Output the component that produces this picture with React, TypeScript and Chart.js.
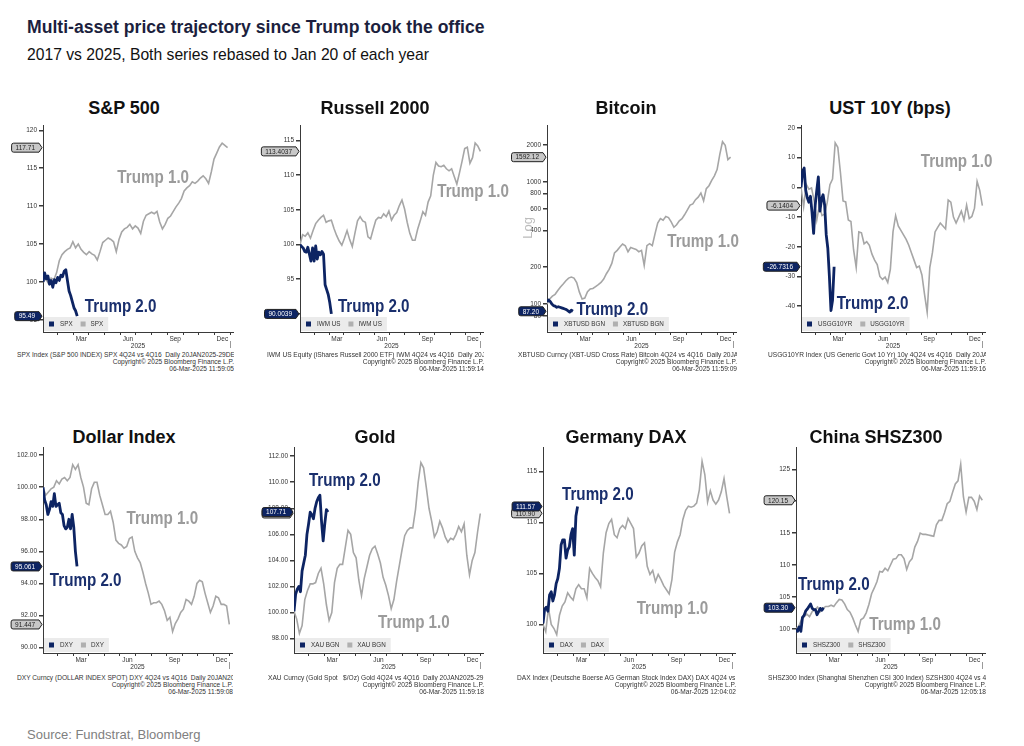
import React, { useEffect, useRef } from "react";
import { Chart, registerables } from "chart.js";

Chart.register(...registerables);

// ---------------- data ----------------
const TITLE = "Multi-asset price trajectory since Trump took the office";
const SUBTITLE = "2017 vs 2025, Both series rebased to Jan 20 of each year";
const SOURCE = "Source: Fundstrat, Bloomberg";
const SERIES_NAMES = ["Trump 1.0", "Trump 2.0"];
const COPYRIGHT = "Copyright\u00a9 2025 Bloomberg Finance L.P.";

// x positions are "session units" since Jan 20
const X_MAX = 350;
const STEP_1 = 5; // spacing of Trump 1.0 samples
const STEP_2 = 3; // spacing of Trump 2.0 samples
const MONTH_TICKS = [27, 56, 84, 113, 142, 171, 200, 229, 258, 287, 316, 345];
const MONTH_LABELS = ["", "Mar", "", "", "Jun", "", "", "Sep", "", "", "Dec", ""];
const HALF_MONTH = 14.45;
const YEAR_LABEL = "2025";

const SPX_2017 = [100.0, 100.4, 99.8, 100.5, 100.3, 101.2, 102.8, 103.6, 104.0, 104.3,
  104.5, 105.3, 104.5, 105.0, 104.3, 103.9, 103.6, 104.0, 103.7, 103.5,
  102.9, 104.0, 105.2, 105.5, 105.8, 105.6, 105.3, 104.0, 105.6, 106.6,
  107.0, 107.2, 107.6, 107.0, 107.4, 107.1, 106.4, 108.0, 108.8, 109.0,
  109.2, 109.0, 109.3, 107.9, 107.0, 107.6, 108.4, 108.7, 109.3, 109.9,
  110.4, 111.0, 112.0, 112.4, 112.7, 113.2, 113.0, 113.3, 113.7, 114.0,
  113.6, 113.0, 114.5, 116.2, 117.0, 117.8, 118.3, 118.0, 117.71];
const SPX_2025 = [100.0, 101.2, 100.4, 100.8, 99.7, 100.2, 99.3, 100.3, 99.9, 100.6, 100.2,
  100.9, 100.7, 101.4, 101.6, 100.2, 98.8, 98.2, 97.4, 96.6, 96.2, 95.49];

const IWM_2017 = [100.0, 101.4, 101.2, 101.7, 100.9, 102.0, 103.0, 103.5, 103.9, 104.2,
  103.2, 103.4, 103.5, 102.3, 101.3, 100.5, 99.9, 100.9, 102.0, 100.7,
  99.7, 101.6, 103.4, 104.0, 103.4, 103.2, 101.1, 100.8, 102.2, 103.5,
  103.9, 103.8, 104.4, 104.0, 104.8, 103.5, 104.2, 104.6, 105.6, 106.4,
  105.1, 103.2, 101.6, 100.6, 100.6, 102.2, 103.4, 104.7, 104.2, 106.1,
  107.0, 110.0, 111.8, 111.3, 111.2, 111.4, 110.9, 110.6, 110.9, 109.8,
  108.7, 110.3, 112.0, 113.8, 114.0, 111.7, 112.5, 114.6, 114.2, 113.4037];
const IWM_2025 = [100.0, 99.7, 99.5, 99.0, 98.9, 99.6, 98.6, 97.6, 99.5, 97.6, 99.8,
  97.9, 98.9, 98.5, 99.0, 98.6, 94.2, 93.5, 92.8, 91.6, 90.0039];

const XBT_2017 = [100, 110, 116, 120, 129, 138, 146, 155, 163, 166,
  163, 150, 125, 110, 112, 126, 133, 134, 139, 144,
  150, 160, 177, 192, 215, 262, 275, 293, 310, 300,
  268, 290, 285, 280, 268, 275, 207, 300, 312, 300,
  375, 460, 500, 485, 520, 510, 470, 425, 445, 480,
  500, 540, 590, 645, 660, 715, 750, 810, 700, 880,
  930, 1030, 1120, 1260, 1680, 2130, 1990, 1520, 1592.12];
const XBT_2025 = [104, 108, 105, 100, 97, 96, 94, 95, 94, 93, 92, 91, 90, 88, 86, 89, 87.2];

const USGG_2017 = [0, -6.5, 1.0, -0.6, -0.2, -4.5, -11.0, -6.0, -9.5, -9.0,
  -5.0, 0.9, 2.8, 15.0, 13.5, 5.0, -4.6, -4.9, -11.0, -11.5,
  -21.0, -27.0, -15.0, -15.3, -19.0, -18.3, -19.5, -22.5, -24.5, -26.0,
  -30.0, -31.0, -30.2, -32.0, -27.5, -15.0, -9.5, -13.0, -14.5, -16.0,
  -17.5, -19.5, -22.0, -24.5, -27.0, -26.5, -29.5, -36.0, -42.0, -27.0,
  -22.0, -15.0, -13.5, -12.0, -13.0, -14.0, -4.3, -5.0, -10.0, -12.0,
  -10.0, -8.0, -11.0, -6.0, -10.5, -9.8, -7.0, 2.0, -1.0, -6.1404];
const USGG_2025 = [0, 5.5, 6.5, -1.0, -3.5, -5.0, -3.0, -8.5, -15.5, -6.0, -1.0,
  3.5, -8.0, -4.0, -2.5, -6.0, -16.0, -20.5, -30.0, -41.5, -38.0, -26.7316];

const DXY_2017 = [100.0, 99.5, 99.7, 99.9, 100.0, 100.4, 100.2, 100.5, 100.6, 100.4,
  100.6, 101.4, 101.1, 101.4, 100.6, 100.0, 99.0, 98.9, 99.9, 100.3,
  100.3, 99.5, 98.9, 98.3, 98.3, 98.5, 97.8, 96.7, 96.5, 96.4,
  96.2, 96.3, 96.8, 96.9, 96.0, 95.6, 95.3, 94.7, 94.0, 93.4,
  92.7, 92.8, 92.8, 92.9, 92.7, 92.3, 91.7, 91.9, 91.0, 91.5,
  91.8, 92.2, 92.4, 93.0, 92.9, 92.7, 93.2, 94.0, 94.2, 94.1,
  93.4, 92.8, 92.2, 92.6, 93.2, 93.1, 92.7, 92.7, 92.6, 91.447];
const DXY_2025 = [100.0, 99.2, 98.9, 98.3, 98.6, 99.1, 98.8, 99.6, 98.8, 98.9, 99.0,
  98.4, 98.3, 97.6, 97.4, 97.5, 98.0, 97.4, 98.3, 97.5, 96.0, 95.061];

const XAU_2017 = [100.1, 99.5, 98.4, 99.0, 101.0, 101.7, 102.2, 102.2, 102.3, 103.0,
  103.4, 102.2, 100.6, 99.4, 100.0, 102.3, 103.4, 103.7, 103.7, 105.0,
  106.3, 106.0, 104.6, 104.2, 102.5, 101.3, 102.6, 103.5, 104.4, 104.9,
  105.1, 104.5, 103.8, 102.7, 102.1, 101.3, 100.3, 101.0, 102.4, 103.6,
  104.8, 105.9, 106.3, 106.5, 106.5, 107.9, 110.0, 111.5, 111.1, 109.6,
  108.0, 107.0, 105.8, 106.2, 107.0, 106.5, 105.8, 105.4, 105.7, 105.6,
  106.0, 106.6, 106.2, 106.8, 104.4, 102.9, 104.0, 104.6, 106.2, 107.6];
const XAU_2025 = [100.1, 101.4, 101.8, 102.0, 101.6, 103.2, 103.8, 104.4, 106.0, 106.8, 107.7,
  107.5, 107.2, 108.0, 108.5, 108.8, 109.0, 107.0, 105.5, 106.8, 107.9, 107.71];

const DAX_2017 = [100.0, 99.3, 101.6, 100.0, 99.6, 99.0, 100.9, 101.8, 102.2, 103.1,
  102.7, 102.4, 103.5, 103.9, 103.5, 103.5, 102.6, 105.5, 105.0, 104.6,
  104.3, 103.7, 107.0, 109.0, 109.9, 110.3, 108.8, 108.5, 109.4, 109.7,
  109.4, 110.4, 109.9, 109.4, 106.6, 107.0, 107.7, 108.0, 105.7, 104.9,
  105.3, 104.2, 104.9, 104.4, 103.8, 103.4, 103.0, 104.4, 107.1, 108.1,
  108.8, 110.3, 111.2, 111.6, 111.5, 111.6, 111.9, 113.2, 116.0, 114.7,
  112.0, 113.1, 112.2, 111.8, 112.2, 113.0, 114.3, 112.5, 110.9];
const DAX_2025 = [100.1, 101.5, 101.7, 101.3, 102.9, 103.2, 102.3, 102.9, 104.0, 104.5, 105.5,
  107.8, 108.3, 108.3, 106.5, 107.3, 107.6, 108.8, 109.4, 106.8, 110.6, 111.57];

const SHSZ_2017 = [100.0, 100.4, 101.4, 101.9, 102.3, 101.9, 102.7, 103.0, 103.4, 102.7,
  103.2, 103.5, 103.5, 103.7, 103.5, 104.1, 104.6, 104.5, 103.9, 103.0,
  102.6, 101.7, 100.6, 99.6, 101.4, 101.7, 102.5, 103.8, 105.5, 106.4,
  107.4, 109.0, 108.9, 109.5, 109.1, 110.0, 110.9, 111.0, 111.6, 111.6,
  111.0, 109.3, 110.5, 111.0, 112.8, 113.7, 115.0, 114.8, 114.8, 114.7,
  114.6, 114.5, 116.3, 117.0, 117.0, 118.2, 119.6, 120.0, 121.4, 122.7,
  123.2, 125.8, 120.7, 118.3, 120.6, 120.6, 120.0, 118.7, 120.8, 120.15];
const SHSZ_2025 = [100.0, 99.6, 100.3, 99.6, 101.8, 102.1, 102.8, 103.1, 103.5, 103.9,
  103.2, 103.0, 103.0, 102.2, 102.7, 103.2, 102.9, 103.3];

const SPX_TICKS = [95, 100, 105, 110, 115, 120];
const IWM_TICKS = [90, 95, 100, 105, 110, 115];
const XBT_TICKS = [80, 100, 200, 400, 600, 800, 1000, 2000];
const USGG_TICKS = [-40, -30, -20, -10, 0, 10, 20];
const DXY_TICKS = [90, 92, 94, 96, 98, 100, 102];
const XAU_TICKS = [98, 100, 102, 104, 106, 108, 110, 112];
const DAX_TICKS = [100, 105, 110, 115];
const SHSZ_TICKS = [100, 105, 110, 115, 120, 125];

// ---------------- styling ----------------
const FONT = "'Liberation Sans', Arial, sans-serif";
const NAVY = "#0d2463";
const GRAY = "#a6a6a6";
const NAVY_TEXT = "#1a2f6d";
const GRAY_TEXT = "#9b9b9b";
const AXIS = "#3a3a3a";
const TICK_TEXT = "#333333";
const ROW_TOP = [125, 447];
const ROW_H = [207, 206];
const YW = 44;
const PT = 10;
const XH = 18;
const RPAD = 30;

type Panel = {
  title: string; titleX: number; row: number; axis: number; right: number;
  legend: string; s1: number[]; s2: number[]; dec1: number; dec2: number;
  yMin: number; yMax: number; yTicks: number[]; yDec: number; log?: boolean;
  ann1: number[]; ann2: number[]; foot: string; stamp: string; footLeft: number;
};

const PANELS: Panel[] = [
  { title: "S&P 500", titleX: 124, row: 0, axis: 43, right: 233, legend: "SPX", s1: SPX_2017, s2: SPX_2025, dec1: 2, dec2: 2,
    yMin: 93.4, yMax: 120.7, yTicks: SPX_TICKS, yDec: 0, ann1: [203, 113.7], ann2: [143, 96.7],
    foot: "SPX Index (S&P 500 INDEX) SPX 4Q24 vs 4Q16  Daily 20JAN2025-29DEC2025", stamp: "06-Mar-2025 11:59:05", footLeft: 17 },
  { title: "Russell 2000", titleX: 375, row: 0, axis: 300, right: 483, legend: "IWM US", s1: IWM_2017, s2: IWM_2025, dec1: 4, dec2: 4,
    yMin: 87.4, yMax: 117.2, yTicks: IWM_TICKS, yDec: 0, ann1: [331, 107.6], ann2: [141, 91.0],
    foot: "IWM US Equity (iShares Russell 2000 ETF) IWM 4Q24 vs 4Q16  Daily 20JAN2025-29DEC2025", stamp: "06-Mar-2025 11:59:14", footLeft: 267 },
  { title: "Bitcoin", titleX: 626, row: 0, axis: 547, right: 736, legend: "XBTUSD BGN", s1: XBT_2017, s2: XBT_2025, dec1: 2, dec2: 2,
    yMin: 59, yMax: 2920, yTicks: XBT_TICKS, yDec: 0, log: true, ann1: [289, 322], ann2: [121, 89],
    foot: "XBTUSD Curncy (XBT-USD Cross Rate) Bitcoin 4Q24 vs 4Q16  Daily 20JAN2025-29DEC2025", stamp: "06-Mar-2025 11:59:09", footLeft: 518 },
  { title: "UST 10Y (bps)", titleX: 890, row: 0, axis: 801, right: 985, legend: "USGG10YR", s1: USGG_2017, s2: USGG_2025, dec1: 4, dec2: 4,
    yMin: -48.7, yMax: 21, yTicks: USGG_TICKS, yDec: 0, ann1: [296, 8.5], ann2: [136, -39.2],
    foot: "USGG10YR Index (US Generic Govt 10 Yr) 10y 4Q24 vs 4Q16  Daily 20JAN2025-29DEC2025", stamp: "06-Mar-2025 11:59:16", footLeft: 768 },
  { title: "Dollar Index", titleX: 124, row: 1, axis: 43, right: 232, legend: "DXY", s1: DXY_2017, s2: DXY_2025, dec1: 3, dec2: 3,
    yMin: 89.67, yMax: 102.5, yTicks: DXY_TICKS, yDec: 2, ann1: [221, 98.03], ann2: [79, 94.15],
    foot: "DXY Curncy (DOLLAR INDEX SPOT) DXY 4Q24 vs 4Q16  Daily 20JAN2025-29DEC2025", stamp: "06-Mar-2025 11:59:08", footLeft: 17 },
  { title: "Gold", titleX: 375, row: 1, axis: 294, right: 483, legend: "XAU BGN", s1: XAU_2017, s2: XAU_2025, dec1: 2, dec2: 2,
    yMin: 96.9, yMax: 112.7, yTicks: XAU_TICKS, yDec: 2, ann1: [222, 99.2], ann2: [94, 110.1],
    foot: "XAU Curncy (Gold Spot   $/Oz) Gold 4Q24 vs 4Q16  Daily 20JAN2025-29DEC2025", stamp: "06-Mar-2025 11:59:18", footLeft: 268 },
  { title: "Germany DAX", titleX: 626, row: 1, axis: 543, right: 735, legend: "DAX", s1: DAX_2017, s2: DAX_2025, dec1: 2, dec2: 2,
    yMin: 97.2, yMax: 117.4, yTicks: DAX_TICKS, yDec: 0, ann1: [236, 101.5], ann2: [100, 112.7],
    foot: "DAX Index (Deutsche Boerse AG German Stock Index DAX) DAX 4Q24 vs 4Q16  Daily 20JAN2025-29DEC2025", stamp: "06-Mar-2025 12:04:02", footLeft: 517 },
  { title: "China SHSZ300", titleX: 876, row: 1, axis: 796, right: 985, legend: "SHSZ300", s1: SHSZ_2017, s2: SHSZ_2025, dec1: 2, dec2: 2,
    yMin: 96.2, yMax: 128.5, yTicks: SHSZ_TICKS, yDec: 0, ann1: [202, 100.6], ann2: [70, 106.9],
    foot: "SHSZ300 Index (Shanghai Shenzhen CSI 300 Index) SZSH300 4Q24 vs 4Q16  Daily 20JAN2025-29DEC2025", stamp: "06-Mar-2025 12:05:18", footLeft: 768 },
];

function narrowText(ctx: CanvasRenderingContext2D, text: string, cx: number, cy: number, color: string) {
  ctx.save();
  ctx.font = `bold 18.5px ${FONT}`;
  ctx.fillStyle = color;
  ctx.textAlign = "center";
  ctx.textBaseline = "middle";
  ctx.translate(cx, cy);
  ctx.scale(0.82, 1);
  ctx.fillText(text, 0, 0);
  ctx.restore();
}

function valueTag(ctx: CanvasRenderingContext2D, text: string, tipX: number, y: number, fill: string, txt: string) {
  ctx.save();
  ctx.font = `6.5px ${FONT}`;
  const w = ctx.measureText(text).width + 8;
  const h = 9;
  const x1 = tipX - 3;
  const x0 = x1 - w;
  const y0 = y - h / 2;
  const r = 2;
  ctx.beginPath();
  ctx.moveTo(x0 + r, y0);
  ctx.lineTo(x1, y0);
  ctx.lineTo(tipX, y);
  ctx.lineTo(x1, y0 + h);
  ctx.lineTo(x0 + r, y0 + h);
  ctx.quadraticCurveTo(x0, y0 + h, x0, y0 + h - r);
  ctx.lineTo(x0, y0 + r);
  ctx.quadraticCurveTo(x0, y0, x0 + r, y0);
  ctx.closePath();
  ctx.fillStyle = fill;
  ctx.fill();
  ctx.strokeStyle = "#222";
  ctx.lineWidth = 1;
  ctx.stroke();
  ctx.fillStyle = txt;
  ctx.textAlign = "center";
  ctx.textBaseline = "middle";
  ctx.fillText(text, x0 + w / 2, y + 0.5);
  ctx.restore();
}

function overlayPlugin(p: Panel) {
  return {
    id: "overlay",
    afterDraw(chart: any) {
      const { ctx, chartArea: a, scales } = chart;
      const xs = scales.x;
      const ys = scales.y;
      ctx.save();
      // year-end marker
      const xm = Math.round(xs.getPixelForValue(MONTH_TICKS[MONTH_TICKS.length - 1])) + 0.5;
      ctx.strokeStyle = "#9a9a9a";
      ctx.lineWidth = 1;
      ctx.beginPath();
      ctx.moveTo(xm, a.bottom + 9);
      ctx.lineTo(xm, a.bottom + 16);
      ctx.stroke();

      // log label
      if (p.log) {
        ctx.save();
        ctx.translate(a.left - 19, ys.getPixelForValue(420));
        ctx.rotate(-Math.PI / 2);
        ctx.font = `13px ${FONT}`;
        ctx.fillStyle = "#bdbdbd";
        ctx.textAlign = "center";
        ctx.textBaseline = "middle";
        ctx.fillText("Log", 0, 0);
        ctx.restore();
      }

      // annotations
      narrowText(ctx, SERIES_NAMES[0], xs.getPixelForValue(p.ann1[0]), ys.getPixelForValue(p.ann1[1]), GRAY_TEXT);
      narrowText(ctx, SERIES_NAMES[1], xs.getPixelForValue(p.ann2[0]), ys.getPixelForValue(p.ann2[1]), NAVY_TEXT);

      // legend box
      ctx.font = `6.3px ${FONT}`;
      const tw = ctx.measureText(p.legend).width;
      const lx = a.left + 1;
      const ly = a.bottom - 15;
      const sq2 = lx + 16 + tw + 8;
      const tx2 = sq2 + 10;
      const lw = tx2 + tw + 5 - lx;
      ctx.fillStyle = "#ebebeb";
      ctx.fillRect(lx, ly, lw, 14);
      ctx.fillStyle = NAVY;
      ctx.fillRect(lx + 5, ly + 4.5, 5, 5);
      ctx.fillStyle = "#b0b0b0";
      ctx.fillRect(sq2, ly + 4.5, 5, 5);
      ctx.fillStyle = TICK_TEXT;
      ctx.textBaseline = "middle";
      ctx.textAlign = "left";
      ctx.fillText(p.legend, lx + 16, ly + 7.5);
      ctx.fillText(p.legend, tx2, ly + 7.5);

      // last value tags
      const last1 = p.s1[p.s1.length - 1];
      const last2 = p.s2[p.s2.length - 1];
      valueTag(ctx, last1.toFixed(p.dec1), a.left - 1, ys.getPixelForValue(last1), "#c8c8c8", "#222");
      valueTag(ctx, last2.toFixed(p.dec2), a.left - 1, ys.getPixelForValue(last2), NAVY, "#ffffff");
      ctx.restore();
    },
  };
}

function buildConfig(p: Panel): any {
  const plotW = p.right - p.axis;
  const pts1 = p.s1.map((v, i) => ({ x: i * STEP_1, y: v }));
  const pts2 = p.s2.map((v, i) => ({ x: i * STEP_2, y: v }));
  return {
    type: "line",
    data: {
      datasets: [
        { label: SERIES_NAMES[1], data: pts2, borderColor: NAVY, borderWidth: 2.8, pointRadius: 0, tension: 0, borderJoinStyle: "round" },
        { label: SERIES_NAMES[0], data: pts1, borderColor: GRAY, borderWidth: 1.6, pointRadius: 0, tension: 0 },
      ],
    },
    options: {
      animation: false,
      responsive: false,
      maintainAspectRatio: false,
      layout: { padding: { top: PT, right: RPAD, left: 0, bottom: 0 } },
      plugins: { legend: { display: false }, tooltip: { enabled: false }, title: { display: false } },
      scales: {
        x: {
          type: "linear",
          min: 0,
          max: X_MAX,
          afterBuildTicks: (s: any) => { s.ticks = MONTH_TICKS.map((v) => ({ value: v })); },
          afterFit: (s: any) => { s.height = XH; },
          ticks: {
            callback: (_v: any, i: number) => MONTH_LABELS[i],
            autoSkip: false, maxRotation: 0, padding: 0,
            labelOffset: (HALF_MONTH / X_MAX) * plotW,
            font: { family: FONT, size: 6.5 }, color: TICK_TEXT,
          },
          grid: { display: true, drawOnChartArea: false, drawTicks: true, tickLength: 3, color: AXIS, lineWidth: 1 },
          border: { display: true, color: AXIS, width: 1 },
          title: { display: true, text: YEAR_LABEL, padding: 0, font: { family: FONT, size: 6.5 }, color: TICK_TEXT },
        },
        y: {
          type: p.log ? "logarithmic" : "linear",
          min: p.yMin,
          max: p.yMax,
          afterBuildTicks: (s: any) => { s.ticks = p.yTicks.map((v) => ({ value: v })); },
          afterFit: (s: any) => { s.width = YW; },
          ticks: {
            callback: (v: any) => Number(v).toFixed(p.yDec),
            autoSkip: false, padding: 2,
            font: { family: FONT, size: 6.5 }, color: TICK_TEXT,
          },
          grid: { display: true, drawOnChartArea: false, drawTicks: true, tickLength: 4, color: AXIS, lineWidth: 1.5 },
          border: { display: true, color: AXIS, width: 1 },
        },
      },
    },
    plugins: [overlayPlugin(p)],
  };
}

function PanelChart({ p }: { p: Panel }) {
  const ref = useRef<HTMLCanvasElement>(null);
  useEffect(() => {
    const chart = new Chart(ref.current as HTMLCanvasElement, buildConfig(p));
    return () => chart.destroy();
  }, [p]);
  const plotTop = ROW_TOP[p.row];
  const plotH = ROW_H[p.row];
  const plotW = p.right - p.axis;
  const w = YW + plotW + RPAD;
  const h = PT + plotH + XH;
  const footTop = p.row === 0 ? 350.5 : 673.8;
  const titleTop = p.row === 0 ? 99.3 : 427.8;
  return (
    <>
      <div style={{ position: "absolute", left: p.titleX - 120, width: 240, top: titleTop, textAlign: "center",
        font: `bold 18px ${FONT}`, lineHeight: "18px", color: "#111", whiteSpace: "nowrap" }}>{p.title}</div>
      <canvas ref={ref} width={w} height={h}
        style={{ position: "absolute", left: p.axis - YW, top: plotTop - PT, width: w, height: h }} />
      <div style={{ position: "absolute", left: p.footLeft, top: footTop, width: p.right + 1 - p.footLeft, overflow: "hidden",
        font: `6.6px ${FONT}`, lineHeight: "7px", color: "#333", whiteSpace: "pre" }}>
        <div>{p.foot}</div>
        <div style={{ textAlign: "right" }}>{COPYRIGHT}</div>
        <div style={{ textAlign: "right" }}>{p.stamp}</div>
      </div>
    </>
  );
}

export default function App() {
  return (
    <div style={{ position: "absolute", left: 0, top: 0, width: 1024, height: 746, background: "#fff", overflow: "hidden", fontFamily: FONT }}>
      <div style={{ position: "absolute", left: 27, top: 18.2, fontSize: 17.6, fontWeight: "bold", lineHeight: "18px", color: "#1c1f3e", whiteSpace: "nowrap" }}>{TITLE}</div>
      <div style={{ position: "absolute", left: 27, top: 46.6, fontSize: 15.7, lineHeight: "16px", color: "#111", whiteSpace: "nowrap" }}>{SUBTITLE}</div>
      {PANELS.map((p) => <PanelChart key={p.legend} p={p} />)}
      <div style={{ position: "absolute", left: 27, top: 728, fontSize: 13, lineHeight: "13px", color: "#808080", whiteSpace: "nowrap" }}>{SOURCE}</div>
    </div>
  );
}
